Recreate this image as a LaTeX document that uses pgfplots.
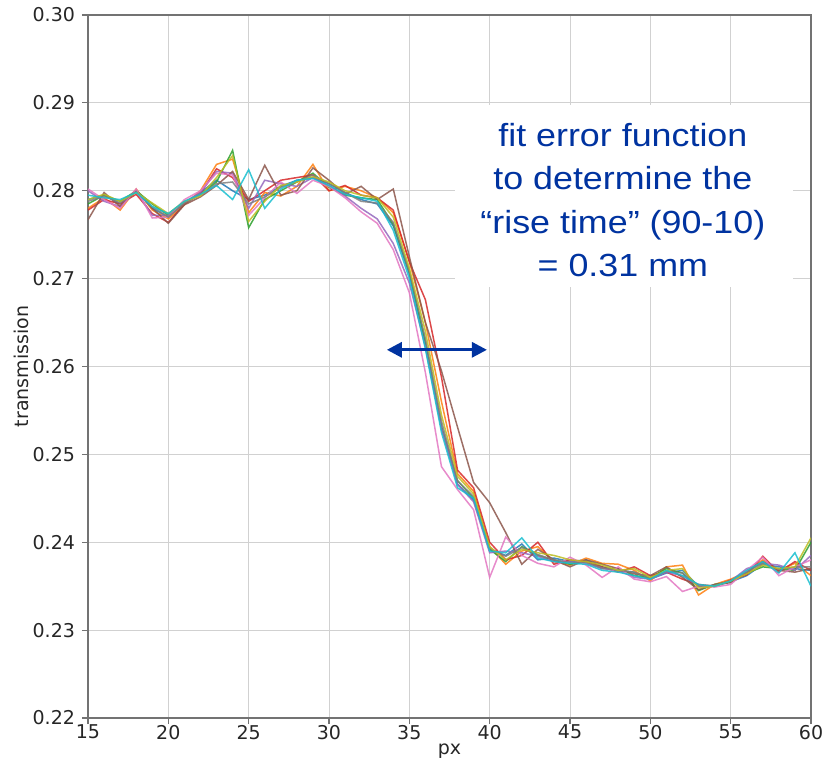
\documentclass[border=0pt]{standalone}
\usepackage{pgfplots}
\usepackage{pgfplotstable}
\pgfplotsset{compat=1.18}
\usetikzlibrary{arrows.meta}
\usepackage{fontspec}
\setmainfont{DejaVu Sans}
\newfontfamily\annfont[FakeStretch=1.12]{Liberation Sans}

% matplotlib tab10 cycle
\definecolor{c0}{HTML}{1F77B4}
\definecolor{c1}{HTML}{FF7F0E}
\definecolor{c2}{HTML}{2CA02C}
\definecolor{c3}{HTML}{D62728}
\definecolor{c4}{HTML}{9467BD}
\definecolor{c5}{HTML}{8C564B}
\definecolor{c6}{HTML}{E377C2}
\definecolor{c7}{HTML}{7F7F7F}
\definecolor{c8}{HTML}{BCBD22}
\definecolor{c9}{HTML}{17BECF}
\definecolor{annblue}{RGB}{0,51,160}

% edge profiles, one column per row of the detector
\pgfplotstableread{
x  s0     s1     s2     s3     s4     s5     s6     s7     s8     s9
15 0.2790 0.2780 0.2785 0.2778 0.2800 0.2767 0.2802 0.2788 0.2790 0.2795
16 0.2795 0.2792 0.2795 0.2790 0.2788 0.2798 0.2790 0.2794 0.2796 0.2792
17 0.2785 0.2778 0.2788 0.2785 0.2782 0.2782 0.2780 0.2786 0.2788 0.2790
18 0.2800 0.2802 0.2800 0.2796 0.2800 0.2800 0.2802 0.2799 0.2798 0.2798
19 0.2780 0.2778 0.2785 0.2774 0.2772 0.2780 0.2769 0.2782 0.2786 0.2782
20 0.2770 0.2768 0.2772 0.2764 0.2772 0.2763 0.2770 0.2770 0.2774 0.2774
21 0.2786 0.2784 0.2786 0.2785 0.2787 0.2784 0.2790 0.2786 0.2788 0.2788
22 0.2798 0.2800 0.2796 0.2797 0.2798 0.2793 0.2800 0.2795 0.2794 0.2796
23 0.2812 0.2830 0.2810 0.2825 0.2822 0.2806 0.2820 0.2808 0.2815 0.2806
24 0.2800 0.2836 0.2846 0.2815 0.2820 0.2822 0.2818 0.2810 0.2840 0.2790
25 0.2790 0.2775 0.2758 0.2788 0.2780 0.2790 0.2772 0.2785 0.2765 0.2824
26 0.2795 0.2798 0.2790 0.2800 0.2812 0.2829 0.2792 0.2793 0.2788 0.2780
27 0.2805 0.2794 0.2800 0.2812 0.2808 0.2795 0.2810 0.2804 0.2806 0.2802
28 0.2812 0.2805 0.2810 0.2815 0.2805 0.2800 0.2797 0.2810 0.2810 0.2812
29 0.2815 0.2830 0.2820 0.2818 0.2815 0.2826 0.2812 0.2818 0.2816 0.2814
30 0.2808 0.2800 0.2804 0.2800 0.2806 0.2812 0.2805 0.2808 0.2810 0.2806
31 0.2798 0.2805 0.2795 0.2806 0.2794 0.2796 0.2792 0.2798 0.2800 0.2796
32 0.2790 0.2800 0.2792 0.2795 0.2780 0.2805 0.2776 0.2788 0.2795 0.2792
33 0.2785 0.2792 0.2790 0.2792 0.2768 0.2790 0.2763 0.2786 0.2792 0.2788
34 0.2760 0.2775 0.2762 0.2778 0.2740 0.2802 0.2733 0.2764 0.2770 0.2755
35 0.2705 0.2720 0.2708 0.2719 0.2695 0.2725 0.2684 0.2708 0.2712 0.2700
36 0.2625 0.2650 0.2628 0.2676 0.2622 0.2650 0.2593 0.2632 0.2640 0.2620
37 0.2530 0.2560 0.2532 0.2588 0.2530 0.2595 0.2486 0.2538 0.2545 0.2525
38 0.2466 0.2478 0.2470 0.2482 0.2466 0.2531 0.2460 0.2470 0.2475 0.2462
39 0.2448 0.2458 0.2450 0.2462 0.2446 0.2468 0.2437 0.2452 0.2455 0.2450
40 0.2392 0.2395 0.2392 0.2400 0.2388 0.2445 0.2360 0.2393 0.2395 0.2390
41 0.2385 0.2375 0.2378 0.2380 0.2390 0.2411 0.2406 0.2384 0.2380 0.2388
42 0.2398 0.2390 0.2395 0.2385 0.2388 0.2375 0.2385 0.2394 0.2392 0.2405
43 0.2380 0.2395 0.2385 0.2400 0.2384 0.2392 0.2376 0.2386 0.2388 0.2382
44 0.2382 0.2378 0.2380 0.2375 0.2378 0.2380 0.2372 0.2380 0.2385 0.2378
45 0.2378 0.2374 0.2375 0.2380 0.2378 0.2372 0.2383 0.2377 0.2380 0.2376
46 0.2380 0.2382 0.2378 0.2378 0.2376 0.2380 0.2374 0.2377 0.2378 0.2375
47 0.2372 0.2376 0.2370 0.2372 0.2370 0.2375 0.2360 0.2371 0.2374 0.2368
48 0.2368 0.2375 0.2370 0.2366 0.2368 0.2370 0.2372 0.2368 0.2368 0.2366
49 0.2366 0.2368 0.2362 0.2372 0.2360 0.2364 0.2358 0.2366 0.2370 0.2362
50 0.2358 0.2356 0.2360 0.2362 0.2358 0.2362 0.2355 0.2359 0.2360 0.2358
51 0.2365 0.2372 0.2370 0.2366 0.2366 0.2372 0.2361 0.2367 0.2368 0.2368
52 0.2368 0.2374 0.2365 0.2358 0.2362 0.2360 0.2344 0.2365 0.2370 0.2362
53 0.2350 0.2340 0.2345 0.2352 0.2350 0.2346 0.2350 0.2350 0.2348 0.2352
54 0.2350 0.2352 0.2352 0.2350 0.2350 0.2352 0.2349 0.2351 0.2350 0.2350
55 0.2355 0.2358 0.2355 0.2357 0.2356 0.2354 0.2352 0.2356 0.2356 0.2356
56 0.2362 0.2366 0.2365 0.2363 0.2370 0.2366 0.2368 0.2366 0.2364 0.2368
57 0.2375 0.2380 0.2372 0.2384 0.2376 0.2378 0.2383 0.2376 0.2374 0.2378
58 0.2372 0.2368 0.2370 0.2366 0.2374 0.2368 0.2362 0.2369 0.2370 0.2365
59 0.2370 0.2376 0.2368 0.2378 0.2368 0.2366 0.2372 0.2372 0.2372 0.2388
60 0.2368 0.2362 0.2400 0.2368 0.2385 0.2370 0.2380 0.2372 0.2405 0.2350
}\profiles

\begin{document}
\begin{tikzpicture}
\begin{axis}[
  at={(0,0)}, anchor=south west,
  scale only axis,
  width=361.5pt, height=351.5pt,
  xmin=15, xmax=60, ymin=0.22, ymax=0.30,
  xtick={15,20,25,30,35,40,45,50,55,60},
  ytick={0.22,0.23,0.24,0.25,0.26,0.27,0.28,0.29,0.30},
  yticklabel style={/pgf/number format/.cd, fixed, fixed zerofill, precision=2},
  /pgf/number format/assume math mode=true,
  scaled y ticks=false,
  grid=major,
  grid style={black!18, line width=0.5pt},
  axis line style={black!55, line width=0.6pt},
  tick align=outside, major tick length=3pt,
  tick style={black!55, line width=0.6pt},
  ticklabel style={font=\fontsize{9.5}{11}\selectfont, text=black!85},
  xticklabel style={yshift=3pt},
  xtick pos=bottom, ytick pos=left,
  label style={font=\fontsize{9.5}{11}\selectfont, text=black!85},
  xlabel={px}, ylabel={transmission},
  xlabel style={yshift=4.5pt},
  ylabel style={yshift=-5pt},
  every axis plot/.append style={line width=0.75pt, no markers, opacity=0.85},
]
  \addplot[c0] table[x=x, y=s0] {\profiles};
  \addplot[c1] table[x=x, y=s1] {\profiles};
  \addplot[c2] table[x=x, y=s2] {\profiles};
  \addplot[c3] table[x=x, y=s3] {\profiles};
  \addplot[c4] table[x=x, y=s4] {\profiles};
  \addplot[c5] table[x=x, y=s5] {\profiles};
  \addplot[c6] table[x=x, y=s6] {\profiles};
  \addplot[c7] table[x=x, y=s7] {\profiles};
  \addplot[c8] table[x=x, y=s8] {\profiles};
  \addplot[c9] table[x=x, y=s9] {\profiles};

  % annotation panel
  \fill[white] (axis cs:37.84,0.26906) rectangle (axis cs:58.85,0.28976);
  \node[annblue, align=center, font=\annfont\fontsize{16}{21.75}\selectfont]
    at (axis cs:48.29,0.27895)
    {fit error function\\to determine the\\“rise time” (90-10)\\= 0.31 mm};
  \draw[annblue, line width=1.5pt,
        {Triangle[length=7.5pt,width=7.5pt]}-{Triangle[length=7.5pt,width=7.5pt]}]
    (axis cs:33.6,0.2619) -- (axis cs:39.83,0.2619);
\end{axis}
\pgfresetboundingbox
\useasboundingbox (-44pt,-23.5pt) rectangle (370pt,359pt);
\end{tikzpicture}
\end{document}
